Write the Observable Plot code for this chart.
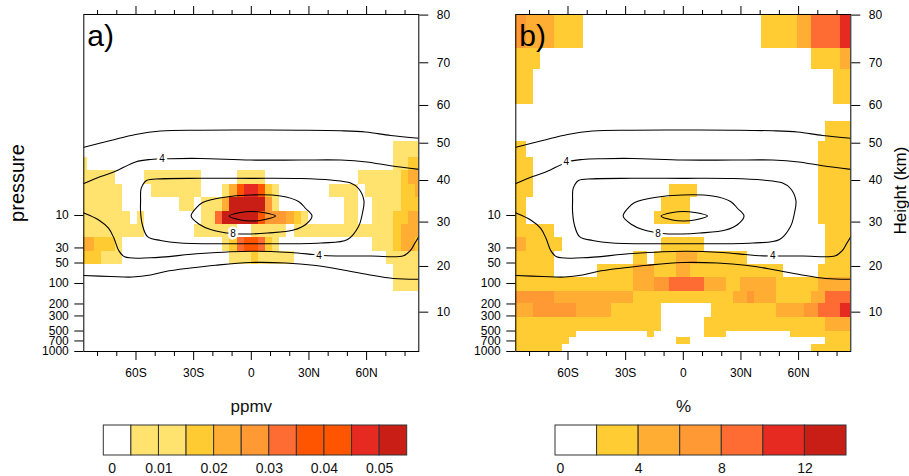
<!DOCTYPE html>
<html><head><meta charset="utf-8">
<script src="https://cdn.jsdelivr.net/npm/d3@7"></script>
<script src="https://cdn.jsdelivr.net/npm/@observablehq/plot@0.6"></script>
<style>
body{margin:0;background:#fff;}
#fig{position:relative;width:909px;height:476px;overflow:hidden;font-family:"Liberation Sans",Arial,Helvetica,sans-serif;}
#fig > *{position:absolute;}
</style></head><body><div id="fig"></div>
<script>
// ---- grid (T31 Gaussian latitudes, northern half) ----
const latN = [1.86,5.57,9.28,12.99,16.70,20.41,24.12,27.83,31.54,35.26,38.97,42.68,46.39,50.10,53.81,57.52,61.23,64.94,68.65,72.36,76.07,79.78,83.48,87.16];
// pressure cell edges (hPa), top to bottom
const presEdges = [0.0111,0.035,0.071,0.23,0.42,0.82,1.38,2.2,3.5,5.5,8.6,13.6,21,33.5,53,82,130,200,316,500,620,790,1000];

// ---- axes ----
const pressTicks = [10,30,50,100,200,300,500,700,1000];
const heightKm = [10,20,30,40,50,60,70,80];
const heightP = [264,56.2,12.5,3.06,0.865,0.241,0.0568,0.0113];
const latMajor = [-60,-30,0,30,60];
const latMajorLabels = ["60S","30S","0","30N","60N"];
const latMinor = [-80,-70,-50,-40,-20,-10,10,20,40,50,70,80];

// ---- colour levels ----
const paletteA = ["#ffffff","#ffe36e","#ffe36e","#ffcb33","#ffad33","#ff9933","#ff6c33","#ff5500","#ff5500","#e62a22","#c81e16"];
const paletteB = ["#ffffff","#ffcc33","#ffad33","#ff9933","#ff6c33","#e62a22","#c81e16"];
const ppmvBounds = [0,0.005,0.01,0.015,0.02,0.025,0.03,0.035,0.04,0.045,0.05,0.055];
const ppmvLabels = [0,0.01,0.02,0.03,0.04,0.05];
const pctBounds = [0,2,4,6,8,10,12,14];
const pctLabels = [0,4,8,12];

// ---- panel a cells: [row, firstCol, lastCol, level] ----
const runsA = [
 [5,44,47,1],
 [6,0,0,1],[6,44,45,1],[6,46,47,3],
 [7,0,4,1],[7,9,16,1],[7,22,25,1],[7,39,44,1],[7,45,45,3],[7,46,47,4],
 [8,0,5,1],[8,10,16,1],[8,20,20,1],[8,21,21,4],[8,22,22,7],[8,23,24,9],[8,25,25,7],[8,26,26,3],[8,27,27,1],[8,35,38,1],[8,40,44,1],[8,45,46,3],[8,47,47,4],
 [9,0,5,1],[9,14,15,1],[9,17,19,1],[9,20,20,4],[9,21,25,10],[9,26,26,5],[9,27,27,1],[9,37,38,1],[9,41,44,1],[9,45,47,3],
 [10,0,6,1],[10,8,8,1],[10,17,18,1],[10,19,19,6],[10,20,24,10],[10,25,25,7],[10,26,28,5],[10,29,29,4],[10,30,30,3],[10,31,31,1],[10,37,38,1],[10,41,43,1],[10,44,45,3],[10,46,47,4],
 [11,0,8,1],[11,16,21,1],[11,24,28,1],[11,30,43,1],[11,44,44,3],[11,45,47,4],
 [12,0,1,4],[12,2,4,3],[12,5,5,1],[12,20,20,1],[12,21,21,3],[12,22,22,6],[12,23,24,7],[12,25,25,6],[12,26,26,3],[12,27,27,1],[12,41,43,1],[12,44,44,3],[12,45,46,4],[12,47,47,3],
 [13,0,2,3],[13,3,5,1],[13,21,23,1],[13,24,24,3],[13,25,29,1],[13,43,47,1],
 [14,44,47,1],
 [15,44,47,1]
];
// ---- panel b cells ----
const runsB = [
 [0,0,1,3],[0,2,5,2],[0,6,9,1],[0,35,39,1],[0,40,41,2],[0,42,45,4],[0,46,47,5],
 [1,0,3,1],[1,42,45,1],[1,46,47,2],
 [2,0,2,1],[2,45,47,1],
 [4,44,47,1],
 [5,0,1,1],[5,43,47,1],
 [6,0,2,1],[6,43,47,1],
 [7,0,2,1],[7,43,47,1],
 [8,0,2,1],[8,22,25,1],[8,43,47,1],
 [9,0,1,1],[9,21,24,1],[9,43,47,1],
 [10,0,1,1],[10,20,24,1],[10,43,47,1],
 [11,0,5,1],[11,44,47,1],
 [12,0,1,2],[12,2,6,1],[12,21,26,1],[12,44,47,1],
 [13,0,5,1],[13,17,18,1],[13,20,22,1],[13,23,25,2],[13,26,32,1],[13,44,47,1],
 [14,0,5,1],[14,12,16,1],[14,17,19,2],[14,20,22,1],[14,23,24,2],[14,25,37,1],[14,43,47,1],
 [15,0,16,1],[15,17,19,2],[15,20,21,3],[15,22,26,4],[15,27,29,2],[15,30,31,1],[15,32,36,2],[15,37,42,1],[15,43,47,2],
 [16,0,5,3],[16,6,16,2],[16,17,30,1],[16,31,32,2],[16,33,33,3],[16,34,36,2],[16,37,41,1],[16,42,43,2],[16,44,47,4],
 [17,0,2,2],[17,3,8,3],[17,9,13,2],[17,14,20,1],[17,28,36,1],[17,37,40,2],[17,41,42,3],[17,43,45,4],[17,46,47,5],
 [18,0,20,1],[18,27,43,1],[18,44,47,2],
 [19,0,8,1],[19,19,19,1],[19,27,29,1],[19,39,47,1],
 [20,0,7,1],[20,23,24,1],[20,44,47,1],
 [21,0,6,1],[21,42,47,1]
];

// ---- contours [lat, hPa] ----
const c2Top = [[-87.1,0.99],[-73.2,0.79],[-60.2,0.644],[-47.2,0.572],[-26.4,0.557],[-0.4,0.553],[25.6,0.557],[46.5,0.568],[59.5,0.592],[72.5,0.666],[87.2,0.73]];
const c4Top = [[-87.1,3.38],[-78.4,2.67],[-71.3,2.28],[-60.2,1.63],[-52.4,1.50],[-42.0,1.46],[-26.4,1.45],[-0.4,1.53],[25.6,1.53],[46.5,1.53],[60.0,1.63],[72.5,1.86],[87.2,2.1]];
const c4Bot = [[-87.1,9.19],[-79.4,11.65],[-74.2,15.5],[-71.4,21.8],[-69.0,32.7],[-65.9,40.5],[-52.4,41.9],[-26.4,36.2],[0.7,33.5],[20.4,35.0],[32.4,37.5],[39.7,39.1],[62.1,39.4],[79.2,39.1],[82.8,32.7],[85.0,25.8],[87.2,20.4]];
const c2Bot = [[-87.1,76.3],[-73.2,78.9],[-61.8,80.3],[-52.4,75.0],[-44.6,66.6],[-31.6,59.2],[-18.6,53.8],[-0.4,49.1],[17.8,49.9],[32.4,53.8],[46.5,62.2],[60.5,73.7],[74.0,84.4],[87.2,86.5]];
const c6 = [[-57.6,6.0],[-57.3,4.0],[-54.5,3.06],[-47.2,2.89],[-26.4,2.84],[0,2.84],[25.6,2.86],[41.3,3.01],[51.7,3.33],[55.8,4.01],[58.6,6.02],[57.9,9.03],[55.8,14.5],[50.1,22.5],[36.1,25.4],[0,26.0],[-36.8,25.4],[-47.2,23.3],[-54.0,20.4],[-56.6,14.0],[-57.6,9.0]];
const c8 = [[-31.3,10.17],[-28.5,7.63],[-25.3,6.44],[-14.9,5.44],[-0.4,4.99],[15.2,5.17],[24.6,6.22],[28.3,7.89],[31.6,10.17],[28.3,13.56],[22.0,16.34],[8.5,18.09],[-0.4,18.71],[-10.8,18.40],[-21.2,16.07],[-26.9,13.56]];
const c10 = [[-11.6,10.17],[-5.6,9.03],[0.2,8.73],[5.9,9.03],[12.6,10.17],[5.9,11.65],[0.2,12.05],[-5.6,11.65]];
const labelsA = [["4",-46.5,1.47],["8",-9.5,18.6],["4",35.2,38.6]];
const labelsB = [["4",-60.9,1.63],["8",-13.2,18.5],["4",46.5,39.3]];

// ---- derived geometry ----
const latCenters = [...latN.map(v => -v).reverse(), ...latN];
const latEdges = latCenters.map((c, i) => i === 0 ? c : (latCenters[i - 1] + c) / 2).concat([latCenters[latCenters.length - 1]]);
const FONT = "'Liberation Sans', Arial, Helvetica, sans-serif";

function cells(runs, palette) {
  return runs.map(([r, c0, c1, v]) => ({x1: latEdges[c0], x2: latEdges[c1 + 1], y1: presEdges[r], y2: presEdges[r + 1], fill: palette[v]}));
}

function panel(runs, palette, labs, letter, ml, mr, w, extra) {
  const xy = {x: d => d[0], y: d => d[1], stroke: "black", strokeWidth: 1.1, clip: true};
  return Plot.plot({
    width: w, height: 380, marginLeft: ml, marginRight: mr, marginTop: 14, marginBottom: 29,
    style: {fontFamily: FONT, background: "transparent", overflow: "visible"},
    x: {domain: [latCenters[0], latCenters[latCenters.length - 1]], axis: null},
    y: {type: "log", domain: [1000, 0.01107], axis: null},
    color: {type: "identity"},
    marks: [
      Plot.rect(cells(runs, palette), {x1: "x1", x2: "x2", y1: "y1", y2: "y2", fill: "fill", inset: 0, shapeRendering: "crispEdges"}),
      ...[c2Top, c4Top, c4Bot, c2Bot].map(c => Plot.line(c, {...xy, curve: "catmull-rom"})),
      ...[c6, c8, c10].map(c => Plot.line(c, {...xy, curve: "catmull-rom-closed"})),
      Plot.text(labs, {x: d => d[1], y: d => d[2], text: d => d[0], fontSize: 10, fill: "black", stroke: "white", strokeWidth: 5}),
      Plot.frame({stroke: "black", strokeWidth: 1}),
      Plot.axisY(pressTicks, {anchor: "left", tickSize: 9, tickPadding: 6, fontSize: 12, label: null, text: d => String(d)}),
      Plot.axisY(heightP, {anchor: "right", tickSize: 9, tickPadding: 9, fontSize: 12, label: null, text: d => String(heightKm[heightP.indexOf(d)])}),
      Plot.axisX(latMajor, {anchor: "bottom", tickSize: 9, tickPadding: 8, fontSize: 12, label: null, tickFormat: d => latMajorLabels[latMajor.indexOf(d)]}),
      Plot.axisX(latMinor, {anchor: "bottom", tickSize: 5, label: null, tickFormat: () => ""}),
      Plot.axisX(latMajor, {anchor: "top", tickSize: 9, label: null, tickFormat: () => ""}),
      Plot.axisX(latMinor, {anchor: "top", tickSize: 5, label: null, tickFormat: () => ""}),
      Plot.text([letter], {frameAnchor: "top-left", text: d => d, textAnchor: "start", lineAnchor: "top", dx: 3.5, dy: 10, fontSize: 30}),
      ...extra
    ]
  });
}

function colorbar(bounds, palette, labels, zeroPos, title, titlePos, w, range) {
  const boxes = palette.map((c, i) => ({lo: bounds[i], hi: bounds[i + 1], fill: c}));
  return Plot.plot({
    width: w, height: 96, margin: 0,
    style: {fontFamily: FONT, background: "transparent", overflow: "visible"},
    x: {domain: [bounds[0], bounds[bounds.length - 1]], range, axis: null},
    y: {domain: [0, 1], range: [75, 45], axis: null},
    color: {type: "identity"},
    marks: [
      Plot.rect(boxes, {x1: "lo", x2: "hi", y1: 0, y2: 1, fill: "fill", stroke: "#333", strokeWidth: 1, inset: 0}),
      Plot.text(labels, {x: d => d === 0 ? zeroPos : d, y: -0.43, text: d => String(d), fontSize: 14, fill: "#111"}),
      Plot.text([title], {x: titlePos, y: 1.633, text: d => d, fontSize: 17, fill: "#111"})
    ]
  });
}

const fig = document.getElementById("fig");
function place(el, left, top) { el.style.left = left + "px"; el.style.top = top + "px"; fig.appendChild(el); }

place(panel(runsA, paletteA, labelsA, "a)", 83.3, 41.7, 460, [
  Plot.text(["pressure"], {frameAnchor: "left", text: d => d, dx: -66.3, rotate: -90, fontSize: 20, textAnchor: "middle"})
]), 0, 0);
place(panel(runsB, paletteB, labelsB, "b)", 55.3, 58.7, 449, [
  Plot.text(["Height (km)"], {frameAnchor: "right", text: d => d, dx: 49.7, dy: 7.5, rotate: -90, fontSize: 17, textAnchor: "middle"})
]), 460, 0);
place(colorbar(ppmvBounds, paletteA, ppmvLabels, 0.0015, "ppmv", 0.02674, 460, [103.3, 406.7]), 0, 380);
place(colorbar(pctBounds, paletteB, pctLabels, 0.24, "%", 6.16, 449, [95, 386]), 460, 380);
</script>
</body></html>
